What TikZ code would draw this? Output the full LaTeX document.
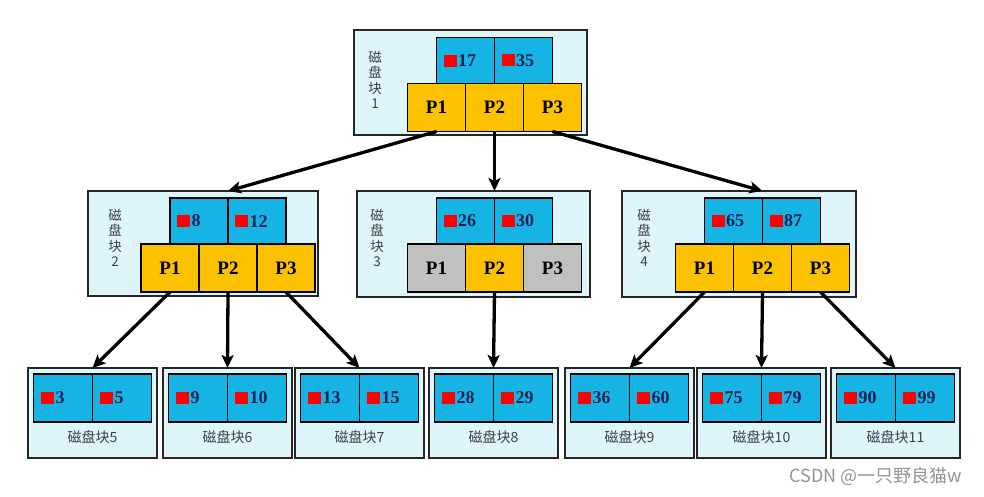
\documentclass[tikz,border=0pt]{standalone}
\usepackage{fontspec}
\setmainfont{Liberation Serif}
\newfontfamily\cjkfont{Noto Sans CJK SC}
\usetikzlibrary{positioning,arrows.meta}
\definecolor{diskfill}{RGB}{222,246,250}
\definecolor{keyfill}{RGB}{22,180,228}
\definecolor{ptrfill}{RGB}{252,194,0}
\definecolor{deadfill}{RGB}{192,192,192}
\definecolor{numcol}{RGB}{25,35,85}
\definecolor{labcol}{RGB}{60,62,72}
\newcommand{\rsq}{\textcolor{red}{\rule{13pt}{12pt}}\hspace{1.5pt}}
\tikzstyle{disk}=[rectangle,draw=black!85,line width=1.3pt,fill=diskfill,inner sep=0pt,outer sep=0pt]
\tikzstyle{keycell}=[rectangle,draw=black,line width=1.1pt,fill=keyfill,minimum width=58pt,
minimum height=46pt,inner sep=0pt,outer sep=0pt,text width=44pt,align=left,
font=\fontsize{18}{18}\selectfont\bfseries,text=numcol]
\tikzstyle{leafcell}=[keycell,minimum width=59pt,minimum height=48pt]
\tikzstyle{ptrcell}=[rectangle,draw=black,line width=1.3pt,fill=ptrfill,minimum width=58pt,
minimum height=48pt,inner sep=0pt,outer sep=0pt,font=\fontsize{19}{19}\selectfont\bfseries]
\tikzstyle{deadcell}=[ptrcell,fill=deadfill]
\tikzstyle{sidelab}=[align=center,inner sep=0pt,font=\cjkfont\fontsize{13.5}{15.5}\selectfont,text=labcol]
\tikzstyle{leaflab}=[inner sep=2pt,font=\cjkfont\fontsize{14}{14}\selectfont,text=labcol]
\tikzstyle{link}=[-{Stealth[length=13pt,width=12pt,inset=3pt]},line width=3.3pt,black]

\begin{document}
\begin{tikzpicture}[x=1pt,y=-1pt]
            \path[fill=white,use as bounding box] (0,0) rectangle (984,496);

            % Disk block 1 (root)

            \node[disk,minimum width=233pt,minimum height=105pt] (b1) at (470.5,82.5) {};
            \node[sidelab] (b1lab) at (375,80) {磁\\盘\\块\\1};
            \node[ptrcell] (b1p2) at (494.5,107.5) {P2};
            \node[ptrcell,left=0pt of b1p2] (b1p1) {P1};
            \node[ptrcell,right=0pt of b1p2] (b1p3) {P3};
            \node[keycell,above left=0pt and 0pt of b1p2.north] (b1k1) {\rsq 17};
            \node[keycell,above right=0pt and 0pt of b1p2.north] (b1k2) {\rsq 35};

            % Disk block 2

            \node[disk,minimum width=230pt,minimum height=105pt] (b2) at (203,243.5) {};
            \node[sidelab] (b2lab) at (115,238) {磁\\盘\\块\\2};
            \node[ptrcell] (b2p2) at (228,268) {P2};
            \node[ptrcell,left=0pt of b2p2] (b2p1) {P1};
            \node[ptrcell,right=0pt of b2p2] (b2p3) {P3};
            \node[keycell,above left=0pt and 0pt of b2p2.north] (b2k1) {\rsq 8};
            \node[keycell,above right=0pt and 0pt of b2p2.north] (b2k2) {\rsq 12};

            % Disk block 3

            \node[disk,minimum width=233pt,minimum height=106pt] (b3) at (473.5,244) {};
            \node[sidelab] (b3lab) at (377,238) {磁\\盘\\块\\3};
            \node[ptrcell] (b3p2) at (494.5,268) {P2};
            \node[deadcell,left=0pt of b3p2] (b3p1) {P1};
            \node[deadcell,right=0pt of b3p2] (b3p3) {P3};
            \node[keycell,above left=0pt and 0pt of b3p2.north] (b3k1) {\rsq 26};
            \node[keycell,above right=0pt and 0pt of b3p2.north] (b3k2) {\rsq 30};

            % Disk block 4

            \node[disk,minimum width=234pt,minimum height=106pt] (b4) at (739,244) {};
            \node[sidelab] (b4lab) at (644,238) {磁\\盘\\块\\4};
            \node[ptrcell] (b4p2) at (762.5,268) {P2};
            \node[ptrcell,left=0pt of b4p2] (b4p1) {P1};
            \node[ptrcell,right=0pt of b4p2] (b4p3) {P3};
            \node[keycell,above left=0pt and 0pt of b4p2.north] (b4k1) {\rsq 65};
            \node[keycell,above right=0pt and 0pt of b4p2.north] (b4k2) {\rsq 87};

            % Leaf blocks

            \node[disk,minimum width=129pt,minimum height=90pt] (l5) at (92.5,413) {};
            \node[leafcell,below left=6pt and 0pt of l5.north] (l5k1) {\rsq 3};
            \node[leafcell,below right=6pt and 0pt of l5.north] (l5k2) {\rsq 5};
            \node[leaflab,above=12pt of l5.south] (l5lab) {磁盘块5};

            \node[disk,minimum width=129pt,minimum height=90pt] (l6) at (227.5,413) {};
            \node[leafcell,below left=6pt and 0pt of l6.north] (l6k1) {\rsq 9};
            \node[leafcell,below right=6pt and 0pt of l6.north] (l6k2) {\rsq 10};
            \node[leaflab,above=12pt of l6.south] (l6lab) {磁盘块6};

            \node[disk,minimum width=129pt,minimum height=90pt] (l7) at (359.5,413) {};
            \node[leafcell,below left=6pt and 0pt of l7.north] (l7k1) {\rsq 13};
            \node[leafcell,below right=6pt and 0pt of l7.north] (l7k2) {\rsq 15};
            \node[leaflab,above=12pt of l7.south] (l7lab) {磁盘块7};

            \node[disk,minimum width=129pt,minimum height=90pt] (l8) at (493.5,413) {};
            \node[leafcell,below left=6pt and 0pt of l8.north] (l8k1) {\rsq 28};
            \node[leafcell,below right=6pt and 0pt of l8.north] (l8k2) {\rsq 29};
            \node[leaflab,above=12pt of l8.south] (l8lab) {磁盘块8};

            \node[disk,minimum width=129pt,minimum height=90pt] (l9) at (629.5,413) {};
            \node[leafcell,below left=6pt and 0pt of l9.north] (l9k1) {\rsq 36};
            \node[leafcell,below right=6pt and 0pt of l9.north] (l9k2) {\rsq 60};
            \node[leaflab,above=12pt of l9.south] (l9lab) {磁盘块9};

            \node[disk,minimum width=129pt,minimum height=90pt] (l10) at (761.5,413) {};
            \node[leafcell,below left=6pt and 0pt of l10.north] (l10k1) {\rsq 75};
            \node[leafcell,below right=6pt and 0pt of l10.north] (l10k2) {\rsq 79};
            \node[leaflab,above=12pt of l10.south] (l10lab) {磁盘块10};

            \node[disk,minimum width=129pt,minimum height=90pt] (l11) at (895.5,413) {};
            \node[leafcell,below left=6pt and 0pt of l11.north] (l11k1) {\rsq 90};
            \node[leafcell,below right=6pt and 0pt of l11.north] (l11k2) {\rsq 99};
            \node[leaflab,above=12pt of l11.south] (l11lab) {磁盘块11};

            % Pointers

            \draw[link] (b1p1.south) -- (b2k1.east |- b2.north);
            \draw[link] (b1p2.south) -- (b3k1.east |- b3.north);
            \draw[link] (b1p3.south) -- (b4k1.east |- b4.north);

            \draw[link] (b2p1.south) -- (l5.north);
            \draw[link] (b2p2.south) -- (l6.north);
            \draw[link] (b2p3.south) -- (l7.north);
            \draw[link] (b3p2.south) -- (l8.north);
            \draw[link] (b4p1.south) -- (l9.north);
            \draw[link] (b4p2.south) -- (l10.north);
            \draw[link] (b4p3.south) -- (l11.north);

            \node[font=\cjkfont\fontsize{18}{18}\selectfont,text=black!42] (mark) at (876,476) {CSDN @一只野良猫w};

        \end{tikzpicture}
\end{document}
